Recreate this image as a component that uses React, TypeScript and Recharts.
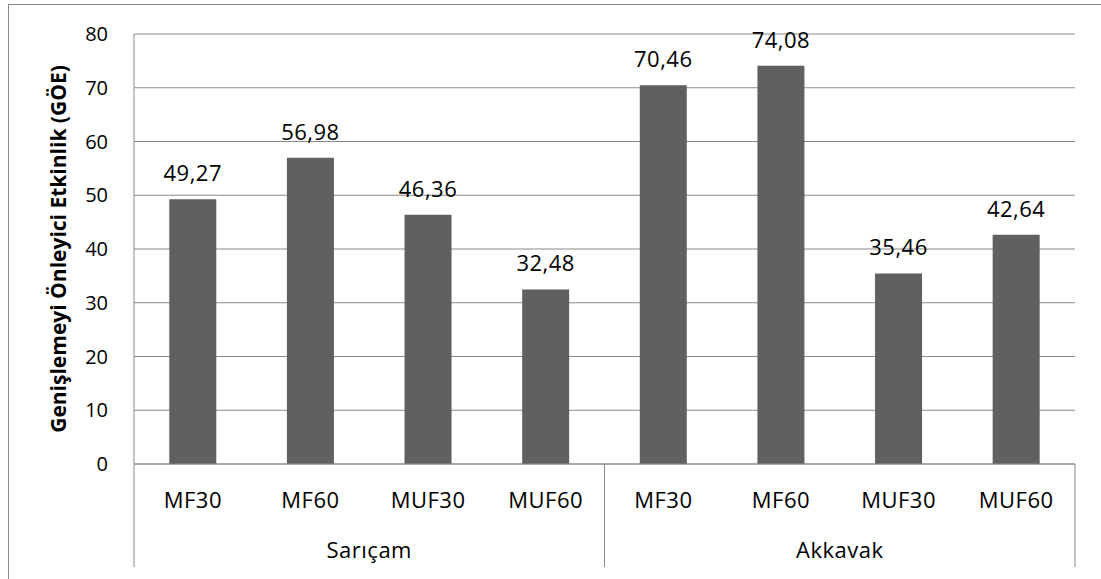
import { BarChart, Bar, XAxis, YAxis, CartesianGrid, LabelList, Label } from 'recharts';

const categories = ['MF30', 'MF60', 'MUF30', 'MUF60', 'MF30', 'MF60', 'MUF30', 'MUF60'];
const groups = ['Sarıçam', 'Sarıçam', 'Sarıçam', 'Sarıçam', 'Akkavak', 'Akkavak', 'Akkavak', 'Akkavak'];
const goeValues = [49.27, 56.98, 46.36, 32.48, 70.46, 74.08, 35.46, 42.64];
const yTicks = [0, 10, 20, 30, 40, 50, 60, 70, 80];

const data = categories.map((name, i) => ({ name, group: groups[i], value: goeValues[i] }));

const FONT = '"Open Sans", sans-serif';
const LINE = '#8a8a8a';
const CAT_AXIS_H = 50;
const GROUP_AXIS_H = 65;
const LINE_BOTTOM = 53; // how far the separators run below the group axis top

const fmt = (v: number) => v.toFixed(2).replace('.', ',');

function CategoryTick({ x, y, payload }: any) {
  return (
    <text x={x} y={y + 44} textAnchor="middle" fontFamily={FONT} fontSize={22} letterSpacing={0.5} fill="#000">
      {payload.value}
    </text>
  );
}

function GroupTick({ x, y, payload, index, visibleTicksCount }: any) {
  const half = payload.offset || 0;
  const top = y - CAT_AXIS_H;
  const bottom = y + LINE_BOTTOM;
  return (
    <g>
      <line x1={x - half} x2={x - half} y1={top} y2={bottom} stroke={LINE} strokeWidth={1} />
      {index === visibleTicksCount - 1 && (
        <line x1={x + half} x2={x + half} y1={top} y2={bottom} stroke={LINE} strokeWidth={1} />
      )}
      <text x={x} y={y + 44} textAnchor="middle" fontFamily={FONT} fontSize={22} letterSpacing={0.5} fill="#000">
        {payload.value}
      </text>
    </g>
  );
}

function YTitle({ viewBox }: any) {
  const cx = viewBox.x + 58;
  const cy = viewBox.y + viewBox.height / 2;
  return (
    <text
      x={cx}
      y={cy}
      transform={`rotate(-90 ${cx} ${cy})`}
      textAnchor="middle"
      dominantBaseline="central"
      fontFamily={FONT}
      fontWeight="bold"
      fontSize={21}
      fill="#000"
    >
      Genişlemeyi Önleyici Etkinlik (GÖE)
    </text>
  );
}

export default function App() {
  return (
    <div style={{ position: 'absolute', left: 0, top: 0, width: 1101, height: 579, overflow: 'hidden', background: '#fff' }}>
      <div
        style={{
          position: 'absolute',
          left: 8,
          top: 4,
          width: 1120,
          height: 700,
          border: `1px solid ${LINE}`,
          pointerEvents: 'none',
        }}
      />
      <BarChart
        width={1101}
        height={579}
        data={data}
        margin={{ top: 34, right: 26, bottom: 0, left: 0 }}
        barCategoryGap="30%"
      >
        <CartesianGrid vertical={false} stroke={LINE} strokeWidth={1} />
        <XAxis
          dataKey="name"
          height={CAT_AXIS_H}
          stroke={LINE}
          tickLine={false}
          tickSize={0}
          tickMargin={0}
          interval={0}
          tick={<CategoryTick />}
        />
        <XAxis
          xAxisId="group"
          dataKey="group"
          allowDuplicatedCategory={false}
          height={GROUP_AXIS_H}
          axisLine={false}
          tickLine={false}
          tickSize={0}
          tickMargin={0}
          interval={0}
          tick={<GroupTick />}
        />
        <YAxis
          width={134}
          domain={[0, 80]}
          ticks={yTicks}
          interval={0}
          stroke={LINE}
          tickLine={false}
          tickSize={0}
          tickMargin={26}
          tick={{ fontFamily: FONT, fontSize: 20, fill: '#000' }}
        >
          <Label content={<YTitle />} />
        </YAxis>
        <Bar dataKey="value" fill="#606060" isAnimationActive={false}>
          <LabelList
            dataKey="value"
            position="top"
            offset={18}
            formatter={(v: any) => fmt(Number(v))}
            style={{ fontFamily: FONT, fontSize: 22, fill: '#000', letterSpacing: 0.5 }}
          />
        </Bar>
      </BarChart>
    </div>
  );
}
